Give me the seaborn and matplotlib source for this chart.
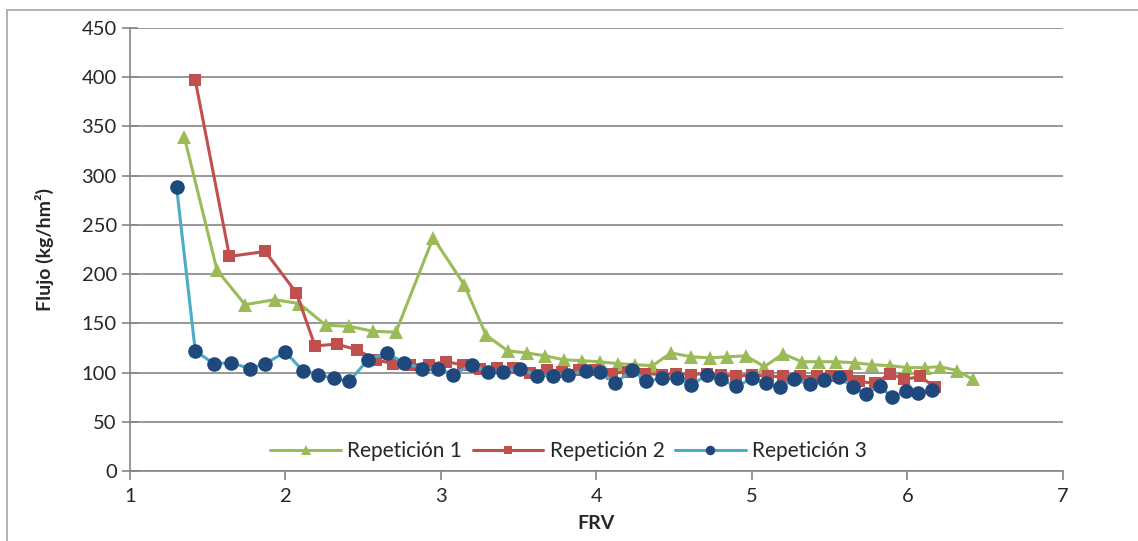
import pandas as pd
import matplotlib.pyplot as plt
import seaborn as sns

# Repetición 1
x1 = [1.35, 1.56, 1.74, 1.93, 2.09, 2.26, 2.41, 2.56, 2.71, 2.95, 3.15, 3.29, 3.43, 3.55,
      3.67, 3.79, 3.91, 4.02, 4.14, 4.25, 4.36, 4.48, 4.61, 4.73, 4.84, 4.96, 5.08, 5.20,
      5.32, 5.43, 5.54, 5.66, 5.77, 5.89, 6.00, 6.11, 6.21, 6.32, 6.42]
y1 = [339, 204, 169, 174, 170, 148, 147, 142, 141, 237, 189, 138, 122, 120,
      117, 113, 112, 111, 109, 108, 107, 120, 116, 115, 116, 117, 106, 119,
      111, 111, 111, 110, 108, 107, 105, 105, 106, 102, 93]

# Repetición 2
x2 = [1.42, 1.64, 1.87, 2.07, 2.19, 2.33, 2.46, 2.58, 2.69, 2.80, 2.92, 3.03, 3.14, 3.25,
      3.36, 3.46, 3.57, 3.68, 3.78, 3.89, 3.99, 4.10, 4.20, 4.31, 4.42, 4.51, 4.61, 4.71,
      4.80, 4.90, 5.00, 5.10, 5.20, 5.31, 5.42, 5.51, 5.61, 5.69, 5.79, 5.89, 5.98, 6.08, 6.18]
y2 = [397, 218, 223, 181, 127, 129, 123, 113, 109, 108, 108, 111, 108, 104,
      105, 105, 100, 103, 101, 103, 103, 99, 101, 99, 98, 99, 98, 99,
      98, 96, 98, 96, 96, 96, 96, 96, 96, 91, 89, 99, 93, 96, 85]

# Repetición 3
x3 = [1.30, 1.42, 1.54, 1.65, 1.77, 1.87, 2.00, 2.11, 2.21, 2.31, 2.41, 2.53, 2.65, 2.76,
      2.88, 2.98, 3.08, 3.20, 3.30, 3.40, 3.51, 3.62, 3.72, 3.82, 3.93, 4.02, 4.12, 4.23,
      4.32, 4.42, 4.52, 4.61, 4.71, 4.80, 4.90, 5.00, 5.09, 5.18, 5.27, 5.37, 5.46, 5.56,
      5.65, 5.73, 5.82, 5.90, 5.99, 6.07, 6.16]
y3 = [288, 122, 109, 110, 104, 109, 121, 102, 98, 94, 91, 113, 120, 110,
      104, 104, 98, 108, 101, 101, 104, 97, 97, 98, 102, 101, 89, 103,
      91, 94, 94, 87, 98, 93, 86, 94, 89, 85, 93, 88, 92, 95,
      85, 78, 86, 75, 81, 79, 82]

sns.set_style("white")
plt.rcParams['font.family'] = ['Lato', 'DejaVu Sans']

fig = plt.figure(figsize=(11.38, 5.41), dpi=100)
ax = fig.add_axes([0.1142, 0.1294, 0.8199, 0.8188])

gris = '#868686'

series = [
    (x1, y1, 'Repetición 1', '^', '#9BBB59', '#9BBB59', 10),
    (x2, y2, 'Repetición 2', 's', '#C0504D', '#C0504D', 9),
    (x3, y3, 'Repetición 3', 'o', '#4BACC6', '#1F497D', 10.5),
]
for x, y, nombre, m, c_linea, c_marca, ms in series:
    df = pd.DataFrame({'FRV': x, 'Flujo': y})
    sns.lineplot(data=df, x='FRV', y='Flujo', ax=ax, sort=False, color=c_linea,
                 linewidth=2.2, marker=m, markersize=ms, markerfacecolor=c_marca,
                 markeredgecolor=c_marca, markeredgewidth=0, label=nombre)

ax.set_xlim(1, 7)
ax.set_ylim(0, 450)
ax.set_xticks(range(1, 8))
ax.set_yticks(range(0, 451, 50))
ax.grid(axis='y', color=gris, linewidth=1.2)
ax.set_axisbelow(True)

for s in ['top', 'right']:
    ax.spines[s].set_visible(False)
for s in ['left', 'bottom']:
    ax.spines[s].set_color(gris)
    ax.spines[s].set_linewidth(1.2)

ax.tick_params(axis='x', direction='out', length=6.5, width=1.2, color=gris,
               labelsize=14.5, pad=6, bottom=True)
ax.tick_params(axis='y', direction='inout', length=11, width=1.2, color=gris,
               labelsize=14.5, pad=4, left=True)

ax.set_xlabel('FRV', fontsize=14, fontweight='bold', labelpad=7)
ax.set_ylabel('Flujo (kg/hm²)', fontsize=14, fontweight='bold', labelpad=20)

ax.legend(loc='center', bbox_to_anchor=(0.47, 0.045), ncol=3, frameon=False,
          fontsize=15, handlelength=3.4, handletextpad=0.3, columnspacing=0.5,
          markerscale=0.65, borderaxespad=0)

# borde del gráfico
fig.add_artist(plt.Line2D([7 / 1138, 7 / 1138], [0, 1 - 10 / 541], transform=fig.transFigure,
                          color='#A6A6A6', linewidth=1.2))
fig.add_artist(plt.Line2D([7 / 1138, 1], [1 - 10 / 541, 1 - 10 / 541], transform=fig.transFigure,
                          color='#A6A6A6', linewidth=1.2))

fig.savefig('out.png', dpi=100)
